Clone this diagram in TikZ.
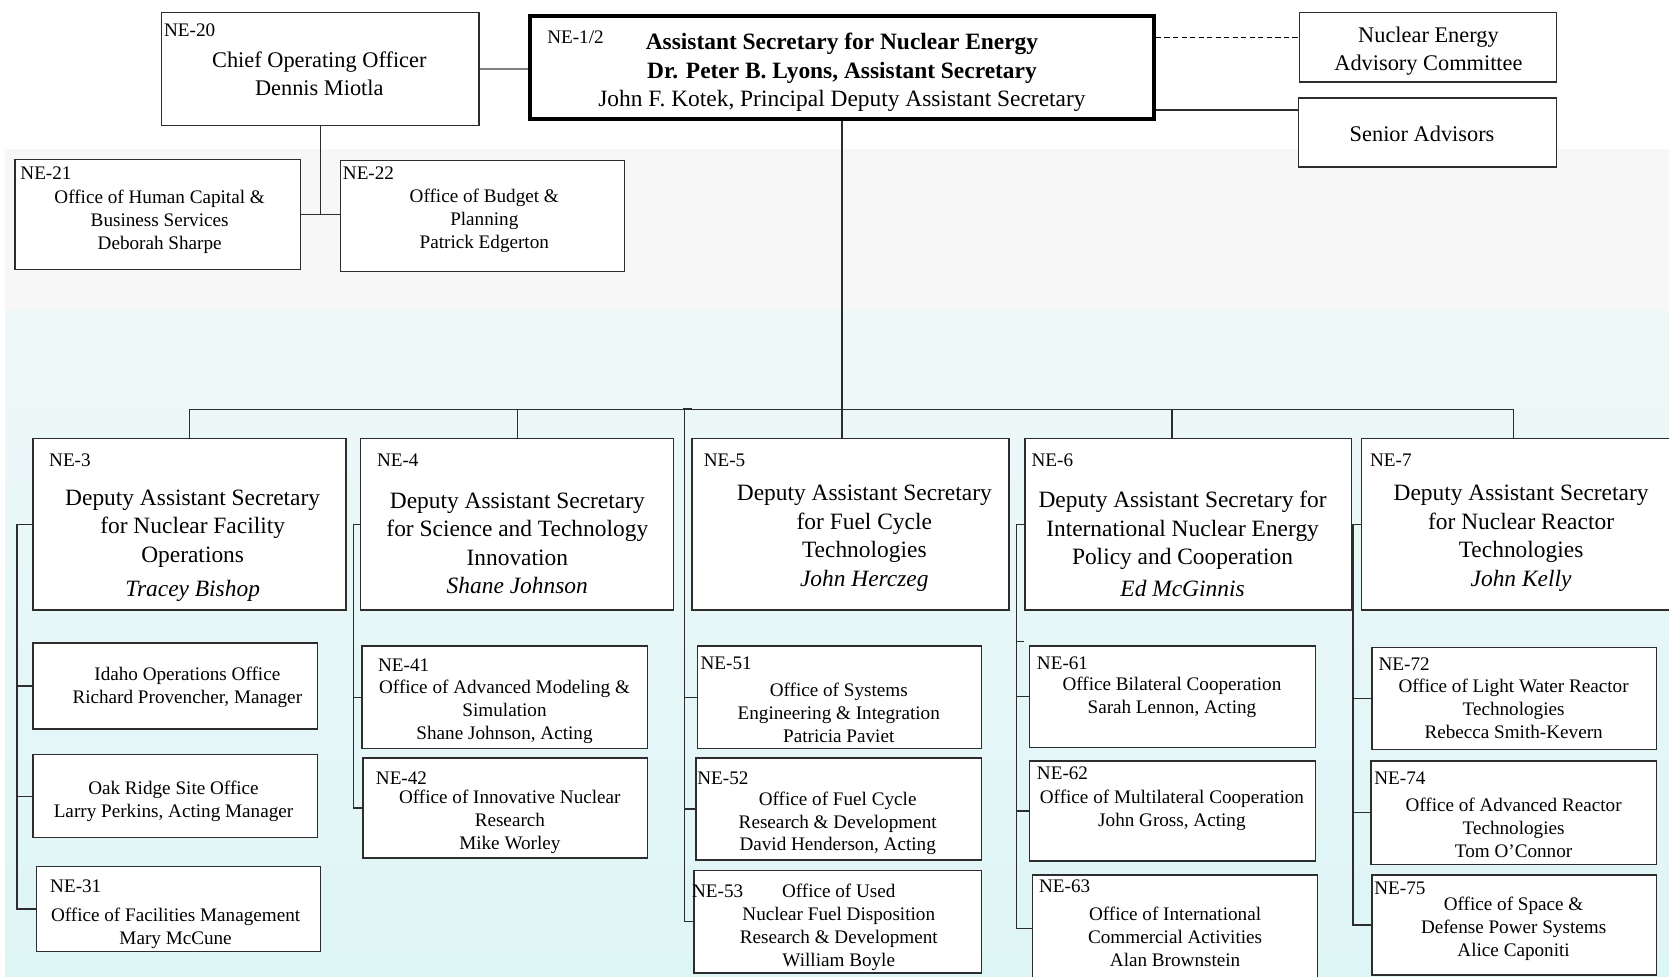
\documentclass[tikz,border=0pt]{standalone}
\usepackage{fontspec}
\setmainfont{Liberation Serif}
\usetikzlibrary{fit}
\definecolor{bgA}{RGB}{247,247,247}
\definecolor{bgB}{RGB}{239,248,248}
\definecolor{bgC}{RGB}{222,245,246}
\definecolor{lineC}{RGB}{45,45,45}
\tikzset{
  box/.style={draw=lineC, line width=1.2pt, fill=white, inner sep=0pt},
  lab/.style={anchor=west, inner sep=0pt, font=\fontsize{18}{21}\selectfont},
  body/.style={align=center, inner sep=0pt, yshift=-2pt, font=\fontsize{18}{21.5}\selectfont},
  big/.style={align=center, inner sep=0pt, yshift=-3pt, font=\fontsize{22}{26.8}\selectfont},
  mid/.style={align=center, inner sep=0pt, yshift=-1pt, font=\fontsize{21}{26}\selectfont},
  conn/.style={draw=lineC, line width=1.2pt},
}
\newcommand\orgbox[6][]{\node[box,#1,fit={(#3,#4) (#5,#6)}] (#2) {};}
\begin{document}
\begin{tikzpicture}[x=1pt,y=-1pt]
\useasboundingbox (0,0) rectangle (1568,917);
% background
\fill[bgA] (5,140) rectangle (1568,292);
\shade[top color=bgB, bottom color=bgC] (5,292) rectangle (1568,917);

% ---------- top level ----------
\orgbox{ne20}{152}{12}{450}{118}
\node[lab] (ne20l) at (154,28) {NE-20};
\node[mid] (ne20t) at (300,68) {Chief Operating Officer\\Dennis Miotla};

\orgbox[line width=4pt, draw=black]{ne12}{498}{15}{1084}{112}
\node[lab] (ne12l) at (514,35) {NE-1/2};
\node[big] (ne12t) at (791,65) {\textbf{Assistant Secretary for Nuclear Energy}\\\textbf{Dr. Peter B. Lyons, Assistant Secretary}\\John F. Kotek, Principal Deputy Assistant Secretary};

\orgbox{neac}{1221}{12}{1462}{77}
\node[mid] (neact) at (1342,47) {Nuclear Energy\\Advisory Committee};

\orgbox{sa}{1220}{92}{1462}{157}
\node[mid] (sat) at (1336,125) {Senior Advisors};

\orgbox{ne21}{14}{150}{282}{253}
\node[lab] (ne21l) at (19,163) {NE-21};
\node[body] (ne21t) at (150,206.5) {Office of Human Capital \&\\Business Services\\Deborah Sharpe};

\orgbox{ne22}{320}{151}{587}{255}
\node[lab] (ne22l) at (322,163) {NE-22};
\node[body] (ne22t) at (455,205.5) {Office of Budget \&\\Planning\\Patrick Edgerton};

% top connectors
\draw[draw=black!50, line width=2.2pt] (ne20.east) -- (ne20.east -| ne12.west);
\coordinate (d1) at ([yshift=-22pt]ne12.north east);
\draw[draw=black, line width=1.4pt, dash pattern=on 5pt off 3pt] (d1) -- (d1 -| neac.west);
\coordinate (s1) at ([yshift=-12pt]sa.north west);
\draw[conn] (s1 -| ne12.east) -- (s1);
\coordinate (j20) at (ne20.south |- ne21.east);
\draw[conn] (ne20.south) -- (j20);
\draw[conn] (ne21.east) -- (ne21.east -| ne22.west);

% ---------- deputy level ----------
\orgbox{ne3}{31}{412}{325}{573}
\node[lab] (ne3l) at (46,432) {NE-3};
\node[big] (ne3t) at (181,509.5) {Deputy Assistant Secretary\\for Nuclear Facility\\Operations\\[5pt]\textit{Tracey Bishop}};

\orgbox{ne4}{339}{412}{633}{573}
\node[lab] (ne4l) at (354,432) {NE-4};
\node[big] (ne4t) at (486,507.5) {Deputy Assistant Secretary\\for Science and Technology\\Innovation\\\textit{Shane Johnson}};

\orgbox{ne5}{650}{412}{948}{573}
\node[lab] (ne5l) at (661,432) {NE-5};
\node[big] (ne5t) at (812,502.5) {Deputy Assistant Secretary\\for Fuel Cycle\\Technologies\\\textit{John Herczeg}};

\orgbox{ne6}{963}{412}{1270}{573}
\node[lab] (ne6l) at (969,432) {NE-6};
\node[big] (ne6t) at (1111,508) {Deputy Assistant Secretary for\\International Nuclear Energy\\Policy and Cooperation\\[3pt]\textit{Ed McGinnis}};

\orgbox{ne7}{1279}{412}{1600}{573}
\node[lab] (ne7l) at (1287,432) {NE-7};
\node[big] (ne7t) at (1429,502.5) {Deputy Assistant Secretary\\for Nuclear Reactor\\Technologies\\\textit{John Kelly}};

% bus
\coordinate (busL) at (178,385);
\coordinate (busR) at (1422,385);
\coordinate (t6) at (1101,412);
\draw[conn] (ne12.south) -- (ne12.south |- ne5.north);
\draw[conn] (busL) -- (busR);
\draw[conn] (busL) -- (busL |- ne3.north);
\draw[conn] (ne4.north |- busL) -- (ne4.north);
\draw[conn] (t6 |- busL) -- (t6);
\draw[conn] (busR) -- (busR |- ne7.north);

% ---------- NE-3 column ----------
\orgbox{idaho}{31}{604}{298}{685}
\node[body] (idahot) at (176,643.5) {Idaho Operations Office\\Richard Provencher, Manager};
\orgbox{oak}{31}{709}{298}{787}
\node[body] (oakt) at (163,750.5) {Oak Ridge Site Office\\Larry Perkins, Acting Manager};
\orgbox{n31}{34}{814}{301}{894}
\node[lab] (n31l) at (47,833) {NE-31};
\node[body] (n31t) at (165,870.5) {Office of Facilities Management\\Mary McCune};
\coordinate (v3) at (16,0);
\draw[conn] (ne3.west) -- (ne3.west -| v3) |- (n31.west);
\draw[conn] (idaho.west -| v3) -- (idaho.west);
\draw[conn] (oak.west -| v3) -- (oak.west);

% ---------- NE-4 column ----------
\orgbox{n41}{340}{607}{608}{703}
\node[lab] (n41l) at (355,625) {NE-41};
\node[body] (n41t) at (474,667) {Office of Advanced Modeling \&\\Simulation\\Shane Johnson, Acting};
\orgbox{n42}{341}{712}{608}{806}
\node[lab] (n42l) at (353,731) {NE-42};
\node[body] (n42t) at (479,770) {Office of Innovative Nuclear\\Research\\Mike Worley};
\coordinate (v4) at (332,0);
\draw[conn] (ne4.west) -- (ne4.west -| v4) |- (n42.west);
\draw[conn] (n41.west -| v4) -- (n41.west);

% ---------- NE-5 column ----------
\orgbox{n51}{655}{607}{922}{703}
\node[lab] (n51l) at (658,623) {NE-51};
\node[body] (n51t) at (788,668) {Office of Systems\\Engineering \& Integration\\Patricia Paviet};
\orgbox{n52}{654}{712}{922}{808}
\node[lab] (n52l) at (655,731) {NE-52};
\node[body] (n52t) at (787,771.5) {Office of Fuel Cycle\\Research \& Development\\David Henderson, Acting};
\orgbox{n53}{652}{818}{922}{914}
\node[lab] (n53l) at (650,837) {NE-53};
\node[body] (n53t) at (788,869) {Office of Used\\Nuclear Fuel Disposition\\Research \& Development\\William Boyle};
\coordinate (v5) at (643,385);
\draw[conn] (v5) |- (n53.west);
\draw[conn] (n51.west -| v5) -- (n51.west);
\draw[conn] (n52.west -| v5) -- (n52.west);
\draw[draw=lineC, line width=2pt] ([xshift=-1pt,yshift=1pt]v5) -- ++(8,0);

% ---------- NE-6 column ----------
\orgbox{n61}{967}{607}{1236}{702}
\node[lab] (n61l) at (974,623) {NE-61};
\node[body] (n61t) at (1101,653.5) {Office Bilateral Cooperation\\Sarah Lennon, Acting};
\orgbox{n62}{967}{715}{1236}{809}
\node[lab] (n62l) at (974,726) {NE-62};
\node[body] (n62t) at (1101,759.5) {Office of Multilateral Cooperation\\John Gross, Acting};
\orgbox{n63}{970}{822}{1238}{922}
\node[lab] (n63l) at (976,833) {NE-63};
\node[body] (n63t) at (1104,878) {Office of International\\Commercial Activities\\Alan Brownstein};
\coordinate (v6) at (955,0);
\draw[conn] (ne6.west) -- (ne6.west -| v6) |- (n63.west);
\draw[conn] (n61.west -| v6) -- (n61.west);
\draw[conn] (n62.west -| v6) -- (n62.west);
\coordinate (k6) at (955,603);
\draw[conn] (k6) -- ++(7,0);

% ---------- NE-7 column ----------
\orgbox{n72}{1289}{608}{1556}{704}
\node[lab] (n72l) at (1295,624) {NE-72};
\node[body] (n72t) at (1422,664) {Office of Light Water Reactor\\Technologies\\Rebecca Smith-Kevern};
\orgbox{n74}{1288}{715}{1556}{812}
\node[lab] (n74l) at (1291,731) {NE-74};
\node[body] (n74t) at (1422,776) {Office of Advanced Reactor\\Technologies\\Tom O’Connor};
\orgbox{n75}{1289}{822}{1556}{916}
\node[lab] (n75l) at (1291,835) {NE-75};
\node[body] (n75t) at (1422,870.5) {Office of Space \&\\Defense Power Systems\\Alice Caponiti};
\coordinate (v7) at (1271,0);
\draw[conn] (ne7.west) -- (ne7.west -| v7) |- (n75.west);
\draw[conn] (n72.west -| v7) -- (n72.west);
\draw[conn] (n74.west -| v7) -- (n74.west);
\end{tikzpicture}
\end{document}
